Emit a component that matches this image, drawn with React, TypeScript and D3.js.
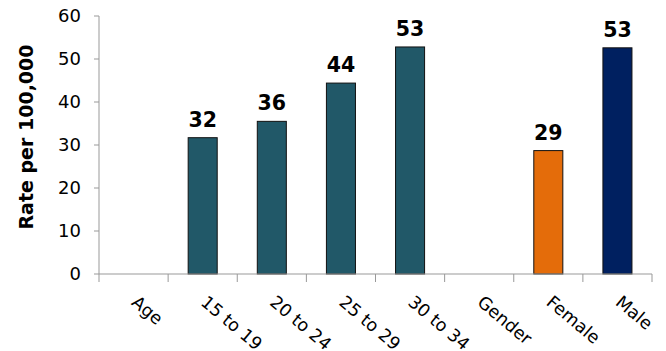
import React from "react";
import * as d3 from "d3";

const categories = ["Age", "15 to 19", "20 to 24", "25 to 29", "30 to 34", "Gender", "Female", "Male"];
const values: (number | null)[] = [null, 31.7, 35.5, 44.4, 52.8, null, 28.7, 52.6];
const labels: (string | null)[] = [null, "32", "36", "44", "53", null, "29", "53"];
const colors = ["#215868", "#215868", "#215868", "#215868", "#215868", "#215868", "#E46C0A", "#002060"];
const yTicks = [0, 10, 20, 30, 40, 50, 60];

const W = 666, H = 351;
const margin = { left: 99, right: 14, top: 16, bottom: 77 };

export default function App() {
  const x = d3.scaleBand<string>().domain(categories).range([margin.left, W - margin.right]).paddingInner(0).paddingOuter(0);
  const y = d3.scaleLinear().domain([0, 60]).range([H - margin.bottom, margin.top]);
  const bw = x.bandwidth() * 0.42;
  const font = "'DejaVu Sans', Verdana, sans-serif";
  const axisColor = "#999999";
  const y0 = y(0);
  return (
    <svg width={W} height={H} style={{ position: "absolute", left: 0, top: 0 }} fontFamily={font}>
      {/* bars */}
      {categories.map((c, i) => {
        const v = values[i];
        if (v == null) return null;
        const cx = (x(c) as number) + x.bandwidth() / 2;
        return (
          <g key={c}>
            <rect x={cx - bw / 2} y={y(v)} width={bw} height={y0 - y(v)} fill={colors[i]} stroke="#111" strokeWidth={1} />
            <text x={cx} y={y(v) - 11} textAnchor="middle" fontWeight="bold" fontSize={20.5} fill="#000">{labels[i]}</text>
          </g>
        );
      })}
      {/* y axis */}
      <line x1={margin.left} x2={margin.left} y1={y(60)} y2={y0} stroke={axisColor} strokeWidth={1} />
      {yTicks.map(t => (
        <g key={t}>
          <line x1={margin.left - 5} x2={margin.left} y1={y(t)} y2={y(t)} stroke={axisColor} />
          <text x={81} y={y(t)} dy="0.36em" textAnchor="end" fontSize={18} fill="#000">{t}</text>
        </g>
      ))}
      {/* x axis */}
      <line x1={margin.left} x2={W - margin.right} y1={y0} y2={y0} stroke={axisColor} strokeWidth={1} />
      {categories.concat(["end"]).map((c, i) => {
        const xx = margin.left + i * x.bandwidth();
        return <line key={"t" + i} x1={xx} x2={xx} y1={y0} y2={y0 + 8} stroke={axisColor} />;
      })}
      {categories.map(c => {
        const cx = (x(c) as number) + x.bandwidth() / 2;
        const ax = cx - 3, ay = 304;
        return (
          <text key={"l" + c} x={ax} y={ay} transform={`rotate(40 ${ax} ${ay})`} fontSize={17.5} fill="#000">{c}</text>
        );
      })}
      {/* y title */}
      <text transform={`translate(33 ${137}) rotate(-90)`} textAnchor="middle" fontWeight="bold" fontSize={19} fill="#000">Rate per 100,000</text>
    </svg>
  );
}
